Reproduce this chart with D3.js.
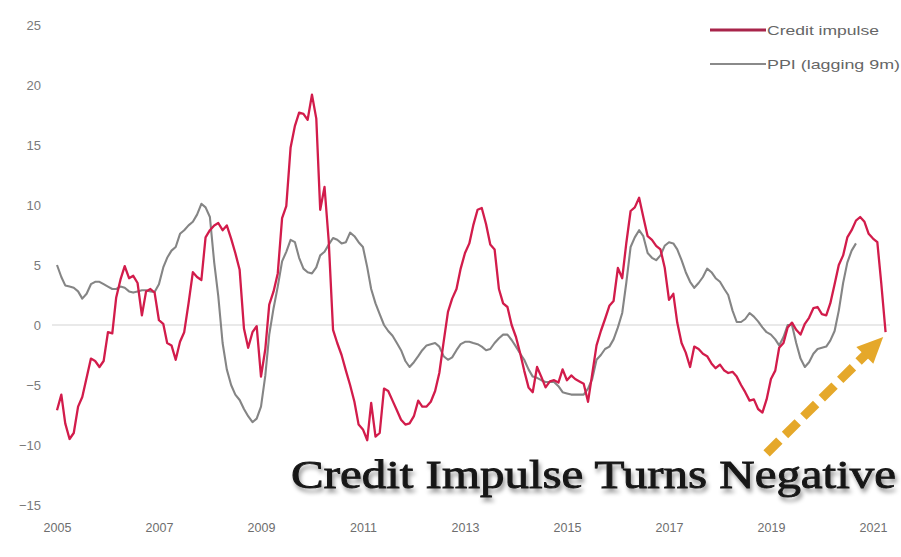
<!DOCTYPE html>
<html>
<head>
<meta charset="utf-8">
<script src="https://cdn.jsdelivr.net/npm/d3@7"></script>
<style>
  html, body { margin: 0; padding: 0; background: #fff; }
  svg { display: block; }
</style>
</head>
<body>
<svg id="chart" width="901" height="557"></svg>
<script>
// Monthly series, first value = January 2005
const seriesStart = new Date(2005, 0, 1);

const creditImpulse = [
  // 2005
  -7.1, -5.8, -8.2, -9.5, -9.0, -6.8, -6.0, -4.4, -2.8, -3.0, -3.5, -3.0,
  // 2006
  -0.6, -0.7, 2.3, 3.8, 4.9, 3.9, 4.1, 3.5, 0.8, 2.8, 3.0, 2.7,
  // 2007
  0.4, 0.1, -1.5, -1.7, -2.9, -1.4, -0.6, 1.8, 4.4, 4.0, 3.75, 7.3,
  // 2008
  7.9, 8.3, 8.5, 7.9, 8.3, 7.2, 6.0, 4.6, -0.3, -1.9, -0.6, -0.1,
  // 2009
  -4.3, -2.0, 1.7, 2.8, 4.3, 8.9, 9.9, 14.8, 16.6, 17.7, 17.6, 17.1,
  // 2010
  19.2, 17.2, 9.6, 11.5, 7.0, -0.4, -1.5, -2.5, -3.8, -5.0, -6.4, -8.3,
  // 2011
  -8.7, -9.6, -6.5, -9.3, -9.0, -5.3, -5.5, -6.3, -7.1, -7.9, -8.3, -8.2,
  // 2012
  -7.6, -6.3, -6.8, -6.8, -6.4, -5.5, -4.0, -1.4, 1.1, 2.2, 3.0, 4.7,
  // 2013
  6.0, 6.8, 8.3, 9.6, 9.75, 8.4, 6.7, 6.3, 3.0, 1.8, 1.5, 0.0,
  // 2014
  -1.0, -2.4, -3.8, -5.2, -5.6, -3.5, -4.3, -5.2, -4.7, -4.6, -4.8, -3.7,
  // 2015
  -4.6, -4.2, -4.5, -4.7, -4.9, -6.4, -4.1, -1.7, -0.5, 0.5, 1.6, 2.0,
  // 2016
  4.75, 3.9, 6.8, 9.5, 9.8, 10.6, 9.0, 7.4, 7.1, 6.6, 6.3, 4.8,
  // 2017
  2.1, 2.6, 0.2, -1.5, -2.3, -3.5, -1.8, -2.0, -2.4, -2.6, -3.2, -3.6,
  // 2018
  -3.3, -3.8, -4.0, -3.9, -4.3, -5.0, -5.6, -6.3, -6.2, -7.0, -7.3, -6.2,
  // 2019
  -4.5, -3.8, -1.9, -1.5, -0.2, 0.2, -0.4, -0.8, 0.1, 0.6, 1.4, 1.5,
  // 2020
  0.9, 0.8, 1.8, 3.4, 5.0, 5.8, 7.3, 7.9, 8.7, 9.0, 8.6, 7.6,
  // 2021
  7.2, 6.9, 3.5, -0.6
];

const ppiLagged9m = [
  // 2005
  5.0, 4.0, 3.3, 3.2, 3.1, 2.8, 2.2, 2.6, 3.4, 3.6, 3.6, 3.4,
  // 2006
  3.2, 3.0, 3.0, 3.2, 3.1, 2.8, 2.7, 2.8, 2.9, 2.9, 2.8, 2.75,
  // 2007
  3.4, 4.8, 5.6, 6.2, 6.5, 7.6, 7.9, 8.3, 8.6, 9.2, 10.1, 9.8,
  // 2008
  9.0, 5.2, 2.4, -1.5, -3.7, -5.0, -5.8, -6.25, -7.0, -7.6, -8.1, -7.8,
  // 2009
  -6.8, -4.2, -0.8, 1.4, 3.2, 5.3, 6.1, 7.1, 6.9, 5.6, 4.7, 4.4,
  // 2010
  4.3, 4.8, 5.8, 6.1, 6.7, 7.25, 7.1, 6.8, 6.9, 7.7, 7.4, 6.9,
  // 2011
  6.5, 4.8, 3.0, 1.8, 0.9, 0.0, -0.5, -0.9, -1.5, -2.1, -3.0, -3.5,
  // 2012
  -3.1, -2.6, -2.1, -1.7, -1.6, -1.5, -1.8, -2.6, -2.9, -2.7, -2.1, -1.6,
  // 2013
  -1.4, -1.4, -1.5, -1.6, -1.8, -2.1, -2.0, -1.5, -1.1, -0.8, -0.8, -1.25,
  // 2014
  -1.8, -2.4, -2.9, -3.7, -4.3, -4.4, -4.6, -4.75, -4.75, -4.75, -5.1, -5.6,
  // 2015
  -5.7, -5.8, -5.8, -5.8, -5.8, -5.3, -4.5, -2.9, -2.5, -2.0, -1.8, -1.2,
  // 2016
  -0.2, 1.0, 3.5, 6.5, 7.3, 7.9, 7.4, 6.0, 5.6, 5.4, 5.8, 6.6,
  // 2017
  6.9, 6.8, 6.3, 5.4, 4.4, 3.6, 3.1, 3.5, 4.0, 4.7, 4.4, 3.9,
  // 2018
  3.6, 3.0, 2.5, 1.2, 0.25, 0.25, 0.5, 1.0, 0.7, 0.3, -0.2, -0.6,
  // 2019
  -0.8, -1.2, -1.7, -1.0, 0.0, 0.0, -1.5, -2.8, -3.5, -3.1, -2.4, -2.0,
  // 2020
  -1.9, -1.8, -1.3, -0.5, 1.2, 3.5, 5.2, 6.2, 6.8
];

const yTicks = [-15, -10, -5, 0, 5, 10, 15, 20, 25];
const xTickYears = [2005, 2007, 2009, 2011, 2013, 2015, 2017, 2019, 2021];
const legendLabels = ["Credit impulse", "PPI (lagging 9m)"];
const headline = "Credit Impulse Turns Negative";
// Arrow from (date, value) to (date, value)
const arrowFrom = [new Date(2018, 11, 1), -10.7];
const arrowTo = [new Date(2021, 2, 15), -1.0];

const RED = "#d21c4b";
const GREY = "#858585";

const svg = d3.select("#chart");

const x = d3.scaleTime()
  .domain([new Date(2005, 0, 1), new Date(2021, 0, 1)])
  .range([57, 873]);
const y = d3.scaleLinear().domain([-15, 25]).range([505, 25]);

const toPoints = arr => arr.map((v, i) => ({ date: d3.timeMonth.offset(seriesStart, i), value: v }));

// zero line
svg.append("line")
  .attr("x1", 52).attr("x2", 890)
  .attr("y1", y(0)).attr("y2", y(0))
  .attr("stroke", "#d4d4d4").attr("stroke-width", 1.2);

// y axis labels
const yAxis = svg.append("g")
  .attr("transform", "translate(43,0)")
  .call(d3.axisLeft(y).tickValues(yTicks).tickSize(0).tickPadding(2).tickFormat(d3.format("d")));
yAxis.select(".domain").remove();
yAxis.selectAll("text")
  .attr("fill", "#7a7a7a")
  .style("font-family", "Liberation Sans, Arial, sans-serif")
  .style("font-size", "13px");

// x axis labels
const xAxis = svg.append("g")
  .attr("transform", "translate(0,517)")
  .call(d3.axisBottom(x)
    .tickValues(xTickYears.map(yr => new Date(yr, 0, 1)))
    .tickSize(0).tickPadding(6)
    .tickFormat(d3.timeFormat("%Y")));
xAxis.select(".domain").remove();
xAxis.selectAll("text")
  .attr("fill", "#6e6e6e")
  .style("font-family", "Liberation Sans, Arial, sans-serif")
  .style("font-size", "12.5px");

const line = d3.line()
  .x(d => x(d.date))
  .y(d => y(d.value))
  .curve(d3.curveLinear);

svg.append("path")
  .datum(toPoints(ppiLagged9m))
  .attr("fill", "none")
  .attr("stroke", GREY)
  .attr("stroke-width", 2.1)
  .attr("stroke-linejoin", "round")
  .attr("d", line);

svg.append("path")
  .datum(toPoints(creditImpulse))
  .attr("fill", "none")
  .attr("stroke", RED)
  .attr("stroke-width", 2.3)
  .attr("stroke-linejoin", "round")
  .attr("d", line);

// legend
const legend = svg.append("g").attr("transform", "translate(710,0)");
[[RED, 30, 3], [GREY, 64, 2]].forEach(([c, ly, w], i) => {
  legend.append("line")
    .attr("x1", 0).attr("x2", 56)
    .attr("y1", ly).attr("y2", ly)
    .attr("stroke", i === 0 ? "#a8244a" : "#8a8a8a").attr("stroke-width", w);
  legend.append("text")
    .attr("x", 57).attr("y", ly + 5)
    .attr("fill", "#666")
    .style("font-family", "Liberation Sans, Arial, sans-serif")
    .style("font-size", "13.5px")
    .attr("textLength", i === 0 ? 112 : 133)
    .attr("lengthAdjust", "spacingAndGlyphs")
    .text(legendLabels[i]);
});

// headline with soft shadow
const defs = svg.append("defs");
const shadow = defs.append("filter").attr("id", "shadow")
  .attr("x", "-5%").attr("y", "-30%").attr("width", "110%").attr("height", "170%");
shadow.append("feDropShadow")
  .attr("dx", 2).attr("dy", 4).attr("stdDeviation", 2.2)
  .attr("flood-color", "#000").attr("flood-opacity", 0.4);

svg.append("text")
  .attr("x", 291).attr("y", 488)
  .attr("fill", "#151515")
  .attr("stroke", "#151515")
  .attr("stroke-width", 0.9)
  .attr("filter", "url(#shadow)")
  .style("font-family", "Liberation Serif, 'Times New Roman', serif")
  .style("font-weight", "normal")
  .style("font-size", "40px")
  .attr("textLength", 605)
  .attr("lengthAdjust", "spacingAndGlyphs")
  .text(headline);

// dashed arrow
const ax0 = x(arrowFrom[0]), ay0 = y(arrowFrom[1]);
const ax1 = x(arrowTo[0]), ay1 = y(arrowTo[1]);
const len = Math.hypot(ax1 - ax0, ay1 - ay0);
const ux = (ax1 - ax0) / len, uy = (ay1 - ay0) / len;
const headLen = 26, headHalf = 12;
const bx = ax1 - ux * headLen, by = ay1 - uy * headLen;
const ARROW = "#e5a82a";
svg.append("line")
  .attr("x1", ax0).attr("y1", ay0)
  .attr("x2", bx + ux * 2).attr("y2", by + uy * 2)
  .attr("stroke", ARROW).attr("stroke-width", 9)
  .attr("stroke-dasharray", "18 8");
svg.append("polygon")
  .attr("points", [
    [ax1, ay1],
    [bx - uy * headHalf, by + ux * headHalf],
    [bx + uy * headHalf, by - ux * headHalf]
  ].map(p => p.join(",")).join(" "))
  .attr("fill", ARROW);
</script>
</body>
</html>
